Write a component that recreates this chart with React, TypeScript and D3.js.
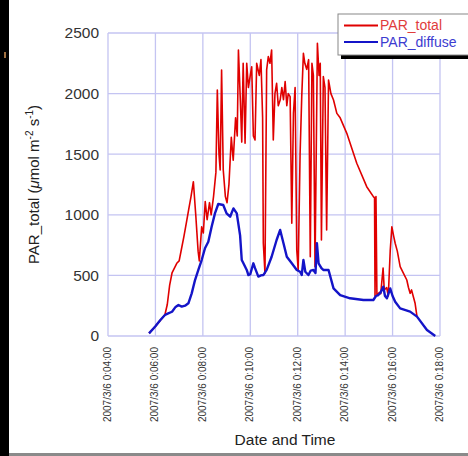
import React, { useEffect, useRef } from 'react';
import * as d3 from 'd3';

// hours of day (2007/3/6) and PAR values
const totalHours = [
  5.73, 6.0, 6.3, 6.4, 6.5, 6.6, 6.7, 6.8, 6.9, 7.0, 7.1, 7.2, 7.3, 7.4, 7.5, 7.6, 7.7, 7.8, 7.85, 7.95,
  8.02, 8.1, 8.18, 8.28, 8.35, 8.45, 8.55, 8.61, 8.68, 8.73, 8.79, 8.86, 8.95, 9.02, 9.1, 9.2, 9.28, 9.38,
  9.45, 9.5, 9.58, 9.64, 9.7, 9.78, 9.85, 9.92, 10.0, 10.06, 10.13, 10.2, 10.27, 10.38, 10.45, 10.52,
  10.55, 10.62, 10.69, 10.76, 10.83, 10.9, 10.97, 11.04, 11.11, 11.18, 11.26, 11.33, 11.4, 11.47, 11.54,
  11.6, 11.68, 11.75, 11.82, 11.89, 11.96, 12.02, 12.1, 12.17, 12.24, 12.3, 12.38, 12.46, 12.53, 12.6,
  12.66, 12.73, 12.83, 12.9, 12.95, 13.0, 13.08, 13.15, 13.22, 13.3, 13.4, 13.51, 13.65, 13.79, 14.07,
  14.49, 14.91, 15.19, 15.24, 15.26, 15.3, 15.34, 15.45, 15.5, 15.6, 15.65, 15.75, 15.82, 15.9, 15.97,
  16.05, 16.11, 16.2, 16.32, 16.45, 16.6, 16.67, 16.74, 16.8, 16.95, 17.03,
];
const totalValues = [
  22, 80, 150, 175, 260, 420, 520, 560, 600, 620, 720, 820, 930, 1040, 1150, 1273, 1000, 700, 620, 900,
  850, 1110, 960, 1100, 1000, 1150, 1350, 2030, 1500, 1370, 2195, 1370, 1150, 1100, 1250, 1640, 1450, 1800,
  1650, 2360, 1950, 1600, 2250, 1590, 2250, 2050, 2150, 2222, 1650, 1617, 2250, 2150, 2280, 1800,
  765, 517, 2195, 2305, 2250, 2360, 1617, 2000, 2085, 1900, 1947, 2050, 1950, 2100, 1900,
  2000, 1975, 930, 1837, 2050, 710, 545, 1500, 1975, 2332, 2250, 2200, 2280, 654, 2250,
  2150, 572, 2415, 2150, 2250, 792, 2140, 2050, 875, 2112, 2000, 1947, 1837, 1800, 1672,
  1425, 1232, 1150, 1140, 330, 1150, 340, 360, 350, 560, 380, 400, 330, 700, 900,
  820, 765, 700, 572, 520, 462, 400, 352, 380, 270, 160,
];

const diffuseHours = [
  5.73, 6.0, 6.2, 6.4, 6.54, 6.7, 6.85, 6.97, 7.11, 7.25, 7.39, 7.53, 7.67, 7.81, 7.95, 8.09, 8.23, 8.37,
  8.51, 8.65, 8.86, 9.0, 9.15, 9.29, 9.43, 9.57, 9.64, 9.71, 9.85, 9.92, 10.0, 10.13, 10.2, 10.34, 10.45,
  10.55, 10.69, 10.9, 11.11, 11.26, 11.4, 11.54, 11.75, 11.96, 12.1, 12.17, 12.24, 12.32, 12.45, 12.55,
  12.66, 12.75, 12.81, 12.88, 13.0, 13.08, 13.3, 13.51, 13.79, 14.21, 14.77, 15.19, 15.3, 15.4, 15.5,
  15.61, 15.68, 15.76, 15.9, 16.0, 16.11, 16.32, 16.74, 17.03, 17.45, 17.8,
];
const diffuseValues = [
  22, 80, 130, 173, 187, 200, 240, 256, 242, 250, 270, 352, 462, 545, 627, 724, 778, 902,
  1012, 1089, 1081, 1012, 984, 1053, 1012, 830, 627, 600, 545, 503, 510, 600, 560, 490, 500,
  503, 545, 654, 792, 875, 765, 654, 600, 545, 530, 503, 627, 530, 503, 540,
  545, 520, 765, 600, 560, 545, 545, 393, 338, 311, 297, 297, 330, 338, 360,
  407, 330, 311, 393, 330, 283, 228, 201, 160, 50, 0,
];

const xTickHours = [4, 6, 8, 10, 12, 14, 16, 18];
const xTickLabels = [
  '2007/3/6 0:04:00', '2007/3/6 0:06:00', '2007/3/6 0:08:00', '2007/3/6 0:10:00',
  '2007/3/6 0:12:00', '2007/3/6 0:14:00', '2007/3/6 0:16:00', '2007/3/6 0:18:00',
];
const yTicks = [0, 500, 1000, 1500, 2000, 2500];
const seriesNames = ['PAR_total', 'PAR_diffuse'];
const seriesColors = ['#e00000', '#1414c8'];
const textColors = ['#e03c3c', '#3c3cd0'];

const W = 468;
const H = 456;

const App: React.FC = () => {
  const ref = useRef<SVGSVGElement>(null);

  useEffect(() => {
    const svg = d3.select(ref.current);
    svg.selectAll('*').remove();
    const font = 'Liberation Sans, Arial, sans-serif';

    svg.append('rect').attr('width', W).attr('height', H).attr('fill', '#fff');
    // black strip on the left edge and grey rule at the bottom
    svg.append('rect').attr('x', 0).attr('y', 0).attr('width', 9).attr('height', H).attr('fill', '#000');
    svg.append('rect').attr('x', 4).attr('y', 52).attr('width', 2).attr('height', 6).attr('fill', '#a07040');
    svg.append('rect').attr('x', 9).attr('y', 453).attr('width', W - 9).attr('height', 3).attr('fill', '#8a8a8a');

    const x = d3.scaleLinear().domain([4, 18]).range([108, 440]);
    const y = d3.scaleLinear().domain([0, 2500]).range([336, 33]);

    const grid = svg.append('g').attr('stroke', '#c4c4f2').attr('stroke-width', 1.3);
    xTickHours.forEach((h) => {
      grid.append('line').attr('x1', x(h)).attr('x2', x(h)).attr('y1', y(0)).attr('y2', y(2500));
    });
    yTicks.forEach((v) => {
      grid.append('line').attr('x1', x(4)).attr('x2', x(18)).attr('y1', y(v)).attr('y2', y(v));
    });

    const yAxis = svg
      .append('g')
      .attr('transform', `translate(${x(4)},0)`)
      .call(d3.axisLeft(y).tickValues(yTicks).tickSize(0).tickPadding(9).tickFormat(d3.format('d')));
    yAxis.select('.domain').remove();
    yAxis.selectAll('text').attr('font-family', font).attr('font-size', 15.5).attr('fill', '#333');

    const xAxis = svg
      .append('g')
      .attr('transform', `translate(0,${y(0)})`)
      .call(
        d3
          .axisBottom(x)
          .tickValues(xTickHours)
          .tickSize(0)
          .tickFormat((_, i) => xTickLabels[i]),
      );
    xAxis.select('.domain').remove();
    xAxis
      .selectAll('text')
      .attr('font-family', font)
      .attr('font-size', 10)
      .attr('fill', '#333')
      .attr('text-anchor', 'end')
      .attr('transform', 'translate(-1,11) rotate(-90)')
      .attr('x', 0)
      .attr('y', 0)
      .attr('dy', '0.35em');

    const line = d3
      .line<[number, number]>()
      .x((d) => x(d[0]))
      .y((d) => y(d[1]));

    const total = totalHours.map((h, i) => [h, totalValues[i]] as [number, number]);
    const diffuse = diffuseHours.map((h, i) => [h, diffuseValues[i]] as [number, number]);

    svg.append('path').datum(total).attr('d', line).attr('fill', 'none')
      .attr('stroke', seriesColors[0]).attr('stroke-width', 1.6).attr('stroke-linejoin', 'round');
    svg.append('path').datum(diffuse).attr('d', line).attr('fill', 'none')
      .attr('stroke', seriesColors[1]).attr('stroke-width', 2.4).attr('stroke-linejoin', 'round');

    // axis titles
    svg.append('text').attr('x', 285).attr('y', 445).attr('text-anchor', 'middle')
      .attr('font-family', font).attr('font-size', 15.5).attr('fill', '#222').text('Date and Time');

    const yl = svg.append('text')
      .attr('transform', `translate(39,${(y(0) + y(2500)) / 2}) rotate(-90)`)
      .attr('text-anchor', 'middle').attr('font-family', font).attr('font-size', 15).attr('fill', '#222');
    yl.append('tspan').text('PAR_total (');
    yl.append('tspan').attr('font-style', 'italic').text('μ');
    yl.append('tspan').text('mol m');
    yl.append('tspan').attr('dy', -6).attr('font-size', 10).text('-2');
    yl.append('tspan').attr('dy', 6).text(' s');
    yl.append('tspan').attr('dy', -6).attr('font-size', 10).text('-1');
    yl.append('tspan').attr('dy', 6).text(')');

    // legend
    const lg = svg.append('g').attr('transform', 'translate(338,14)');
    lg.append('rect').attr('x', 3).attr('y', 3).attr('width', 140).attr('height', 42).attr('fill', '#000');
    lg.append('rect').attr('x', 0).attr('y', 0).attr('width', 140).attr('height', 41)
      .attr('fill', '#fff').attr('stroke', '#888').attr('stroke-width', 1);
    seriesNames.forEach((name, i) => {
      const cy = 11.5 + i * 16.5;
      lg.append('line').attr('x1', 6).attr('x2', 40).attr('y1', cy).attr('y2', cy)
        .attr('stroke', seriesColors[i]).attr('stroke-width', 1.8);
      lg.append('text').attr('x', 42).attr('y', cy).attr('dy', '0.34em')
        .attr('font-family', font).attr('font-size', 14).attr('fill', textColors[i]).text(name);
    });
  }, []);

  return (
    <svg
      ref={ref}
      width={W}
      height={H}
      style={{ position: 'absolute', left: 0, top: 0, display: 'block' }}
    />
  );
};

export default App;
